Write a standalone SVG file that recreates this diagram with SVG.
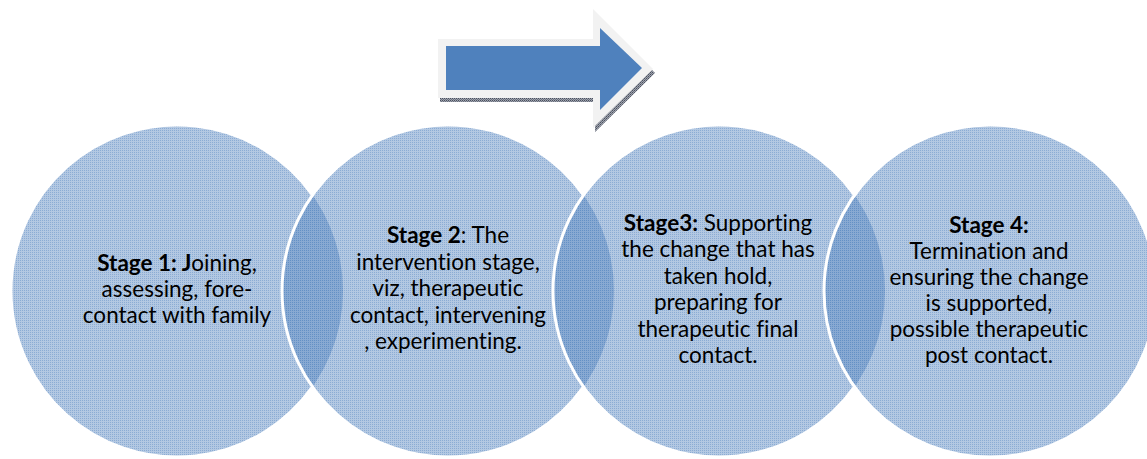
<svg xmlns="http://www.w3.org/2000/svg" width="1147" height="459" viewBox="0 0 1147 459">
<style>
.fill{fill:url(#dots);}
.rim{fill:none;stroke:#ffffff;stroke-width:3;}
.t{font-family:Lato,"Open Sans","Liberation Sans",sans-serif;font-size:22.5px;fill:#000;text-anchor:middle;font-variant-ligatures:none;}
.b{font-weight:bold;}
</style>
<defs>
<pattern id="dots" patternUnits="userSpaceOnUse" width="2" height="2">
<rect width="2" height="2" fill="#4f81bd" fill-opacity="0.43"/>
<rect width="1" height="1" fill="#4f81bd" fill-opacity="0.4"/>
</pattern>
<pattern id="shade" patternUnits="userSpaceOnUse" width="2" height="2">
<rect width="2" height="2" fill="#a0a4ac"/>
<rect width="1" height="1" fill="#4a5060"/>
<rect x="1" y="1" width="1" height="1" fill="#6a7080"/>
</pattern>
</defs>
<g id="arrow">
<polygon points="440,43 595,43 595,13 655,73 595,132 595,102 440,102" fill="url(#shade)"/>
<polygon points="438,39 593,39 593,9 653,69 593,128 593,98 438,98" fill="#f2f2f2"/>
<polygon points="446,46 600,46 600,28 642,68 600,110 600,90 446,90" fill="#4f81bd"/>
</g>
<g id="stage1">
<circle class="fill" cx="177" cy="291" r="166"/>
<path class="rim" d="M312.5,195.1 A166,166 0 1 0 312.5,386.9"/>
<text class="t" x="177" y="271"><tspan class="b">Stage 1: J</tspan>oining,</text>
<text class="t" x="177" y="297">assessing, fore-</text>
<text class="t" x="177" y="323">contact with family</text>
</g>
<g id="stage2">
<circle class="fill" cx="448" cy="291" r="166"/>
<path class="rim" d="M583.5,195.1 A166,166 0 1 0 583.5,386.9"/>
<text class="t" x="448" y="243"><tspan class="b">Stage 2</tspan>: The</text>
<text class="t" x="448" y="270">intervention stage,</text>
<text class="t" x="448" y="296">viz, therapeutic</text>
<text class="t" x="448" y="323">contact, intervening</text>
<text class="t" x="443" y="349">, experimenting.</text>
</g>
<g id="stage3">
<circle class="fill" cx="719" cy="291" r="166"/>
<path class="rim" d="M854.5,195.1 A166,166 0 1 0 854.5,386.9"/>
<text class="t" x="718" y="231"><tspan class="b">Stage3:</tspan> Supporting</text>
<text class="t" x="718" y="257">the change that has</text>
<text class="t" x="718" y="284">taken hold,</text>
<text class="t" x="718" y="310">preparing for</text>
<text class="t" x="718" y="337">therapeutic final</text>
<text class="t" x="718" y="363">contact.</text>
</g>
<g id="stage4">
<circle class="fill" cx="990" cy="291" r="166"/>
<circle class="rim" cx="990" cy="291" r="166"/>
<text class="t" x="989" y="233"><tspan class="b">Stage 4:</tspan></text>
<text class="t" x="989" y="259">Termination and</text>
<text class="t" x="989" y="285">ensuring the change</text>
<text class="t" x="989" y="311">is supported,</text>
<text class="t" x="989" y="337">possible therapeutic</text>
<text class="t" x="989" y="363">post contact.</text>
</g>
<g id="connectors"/>
</svg>
